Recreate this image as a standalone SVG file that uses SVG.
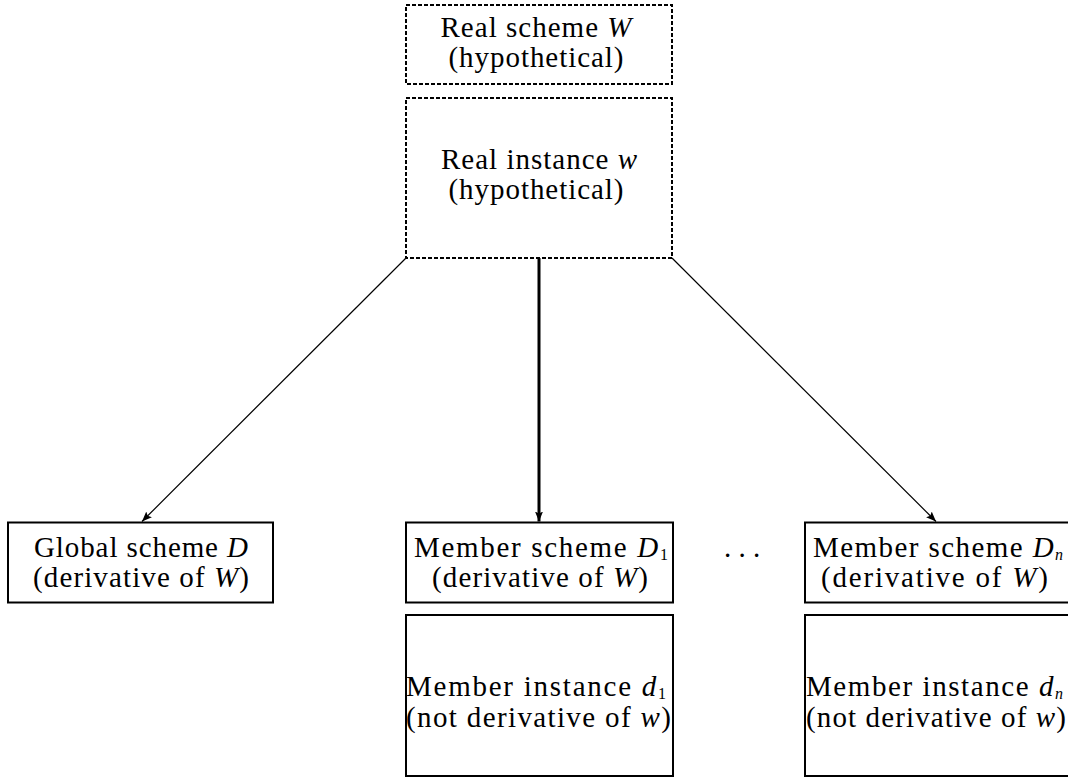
<svg xmlns="http://www.w3.org/2000/svg" width="1068" height="777" viewBox="0 0 1068 777">
<defs>
<style>
.t{font-family:"Liberation Serif","Times New Roman",serif;font-size:29px;fill:#000;text-anchor:middle}
.i{font-style:italic}
.s{font-size:16px}
.box{fill:#fff;stroke:#000;stroke-width:2}
.dash{stroke-dasharray:4 2}
.ln{stroke:#000;fill:none}
</style>
<marker id="ah" viewBox="0 0 10 10" refX="10" refY="5" markerWidth="10" markerHeight="10" markerUnits="userSpaceOnUse" orient="auto">
<path d="M0,1 L10,5 L0,9 L2,5 Z" fill="#000"/>
</marker>
</defs>
<rect width="1068" height="777" fill="#fff"/>
<g id="connectors">
<line class="ln" x1="406" y1="258" x2="142" y2="521.5" stroke-width="1.2" marker-end="url(#ah)"/>
<line class="ln" x1="539" y1="258" x2="539" y2="521.5" stroke-width="3" marker-end="url(#ah)"/>
<line class="ln" x1="672" y1="258" x2="936" y2="521.5" stroke-width="1.2" marker-end="url(#ah)"/>
</g>
<g id="real-scheme">
<rect class="box dash" x="406" y="5" width="266" height="79"/>
<text class="t" x="536" y="37" textLength="191">Real scheme <tspan class="i">W</tspan></text>
<text class="t" x="536" y="67" textLength="175">(hypothetical)</text>
</g>
<g id="real-instance">
<rect class="box dash" x="406" y="98" width="266" height="160"/>
<text class="t" x="539" y="169" textLength="196">Real instance <tspan class="i">w</tspan></text>
<text class="t" x="536" y="199" textLength="175">(hypothetical)</text>
</g>
<g id="global-scheme">
<rect class="box" x="8" y="522.5" width="265" height="80"/>
<text class="t" x="141" y="557" textLength="214">Global scheme <tspan class="i">D</tspan></text>
<text class="t" x="141" y="587" textLength="216">(derivative of <tspan class="i">W</tspan>)</text>
</g>
<g id="member-scheme-1">
<rect class="box" x="406" y="522.5" width="267" height="80"/>
<text class="t" x="541" y="557" textLength="254">Member scheme <tspan class="i">D</tspan><tspan class="s" dy="3">1</tspan></text>
<text class="t" x="540" y="587" textLength="216">(derivative of <tspan class="i">W</tspan>)</text>
</g>
<g id="member-instance-1">
<rect class="box" x="406" y="615" width="267" height="161"/>
<text class="t" x="536" y="696" textLength="260">Member instance <tspan class="i">d</tspan><tspan class="s" dy="3">1</tspan></text>
<text class="t" x="538.5" y="727" textLength="265">(not derivative of <tspan class="i">w</tspan>)</text>
</g>
<g id="ellipsis">
<text class="t" x="742" y="557">. . .</text>
</g>
<g id="member-scheme-n">
<rect class="box" x="805" y="522.5" width="267" height="80"/>
<text class="t" x="938" y="557" textLength="250">Member scheme <tspan class="i">D</tspan><tspan class="s i" dy="3">n</tspan></text>
<text class="t" x="934.5" y="587" textLength="227">(derivative of <tspan class="i">W</tspan>)</text>
</g>
<g id="member-instance-n">
<rect class="box" x="805" y="615" width="267" height="161"/>
<text class="t" x="934.5" y="696" textLength="257">Member instance <tspan class="i">d</tspan><tspan class="s i" dy="3">n</tspan></text>
<text class="t" x="936" y="727" textLength="260">(not derivative of <tspan class="i">w</tspan>)</text>
</g>
</svg>
